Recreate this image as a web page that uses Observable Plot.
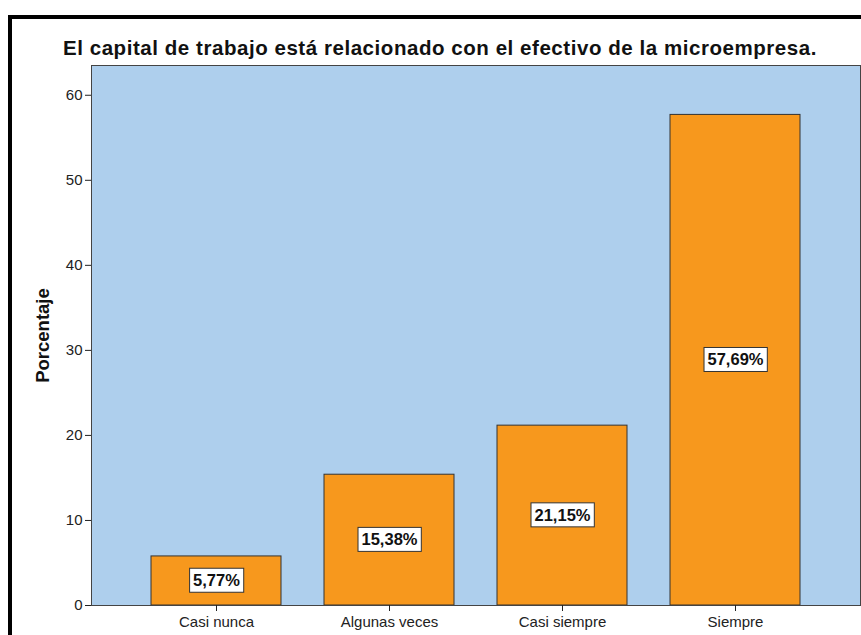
<!DOCTYPE html>
<html>
<head>
<meta charset="utf-8">
<script src="https://cdn.jsdelivr.net/npm/d3@7"></script>
<script src="https://cdn.jsdelivr.net/npm/@observablehq/plot@0.6"></script>
<style>
  body { margin: 0; background: #fff; font-family: "Liberation Sans", Arial, sans-serif; }
  #wrap { position: relative; width: 861px; height: 635px; overflow: hidden; }
  #border { position: absolute; left: 8px; top: 15px; width: 900px; height: 700px; border-top: 4px solid #000; border-left: 4px solid #000; }
  #title { position: absolute; left: 63px; top: 38px; font-size: 20.5px; line-height: 20px; letter-spacing: 0.55px; font-weight: bold; color: #111; white-space: nowrap; }
  #chart { position: absolute; left: 0; top: 0; }
  g[aria-label="y-axis label"] text { font-size: 18.5px; font-weight: bold; fill: #111; }
</style>
</head>
<body>
<div id="wrap">
  <div id="border"></div>
  <div id="chart"></div>
  <div id="title">El capital de trabajo está relacionado con el efectivo de la microempresa.</div>
</div>
<script>
const categories = ["Casi nunca", "Algunas veces", "Casi siempre", "Siempre"];
const percentages = [5.77, 15.38, 21.15, 57.69];
const yTicks = [0, 10, 20, 30, 40, 50, 60];

const data = categories.map((c, i) => ({ cat: c, pct: percentages[i] }));
const fmt = v => v.toFixed(2).replace(".", ",") + "%";

const chart = Plot.plot({
  width: 861,
  height: 635,
  marginTop: 65,
  marginLeft: 91,
  marginRight: 1,
  marginBottom: 30,
  style: { fontFamily: "Liberation Sans, Arial, sans-serif", fontSize: "15px", color: "#222", background: "transparent", overflow: "visible" },
  x: { domain: categories, paddingInner: 0.25, paddingOuter: 0.344 },
  y: { domain: [0, 63.5] },
  marks: [
    Plot.frame({ fill: "#aecfed" }),
    Plot.barY(data, { x: "cat", y: "pct", fill: "#f7981d", stroke: "#333", strokeWidth: 1 }),
    Plot.frame({ stroke: "#444" }),
    Plot.axisX({ tickSize: 6, tickPadding: 5, label: null, stroke: "#222", fill: "#222" }),
    Plot.axisY(yTicks, { tickSize: 6, tickPadding: 3, label: "Porcentaje", labelAnchor: "center", labelOffset: 56, labelArrow: "none", stroke: "#222", fill: "#222" }),
    Plot.text(data, { x: "cat", y: d => d.pct / 2, text: d => fmt(d.pct), fontWeight: "bold", fontSize: 16.5, fill: "#111" })
  ]
});
document.getElementById("chart").appendChild(chart);

// white boxes behind the value labels, sized from each label's text
const svgNS = "http://www.w3.org/2000/svg";
chart.querySelectorAll('g[aria-label="text"] text').forEach(t => {
  const b = t.getBBox();
  const r = document.createElementNS(svgNS, "rect");
  r.setAttribute("x", b.x - 3.5);
  r.setAttribute("y", b.y - 3);
  r.setAttribute("width", b.width + 7);
  r.setAttribute("height", b.height + 6);
  r.setAttribute("fill", "#fff");
  r.setAttribute("stroke", "#333");
  r.setAttribute("stroke-width", 1);
  const tr = t.getAttribute("transform");
  if (tr) r.setAttribute("transform", tr);
  t.parentNode.insertBefore(r, t);
});
</script>
</body>
</html>
